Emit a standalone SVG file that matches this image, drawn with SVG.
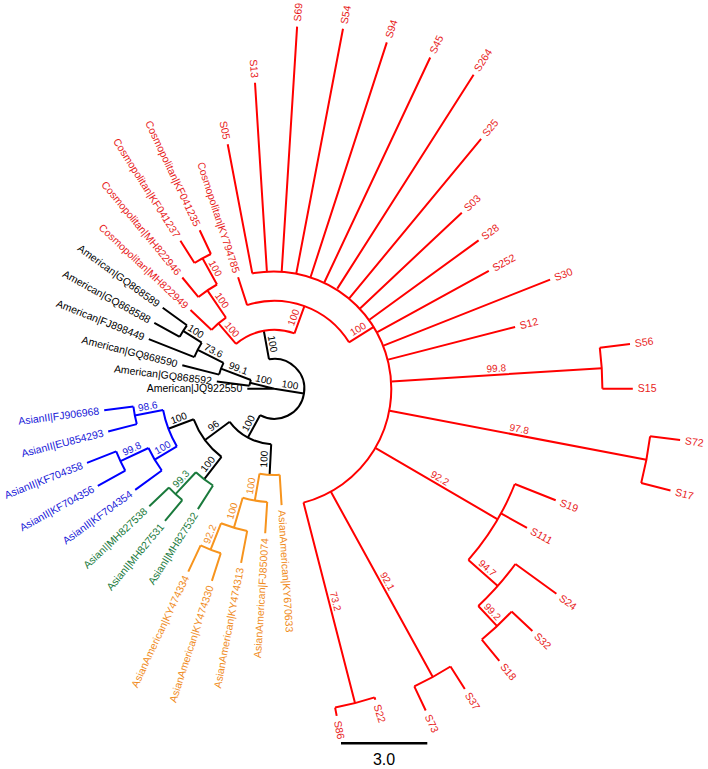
<svg xmlns="http://www.w3.org/2000/svg" width="708" height="769" viewBox="0 0 708 769">
<style>
.e{fill:none;stroke-width:2;stroke-linecap:butt}
.r{stroke:#f00}.k{stroke:#000}.b{stroke:#00f}.g{stroke:#1a7a3c}.o{stroke:#f7941d}
text{font-family:"Liberation Sans",Arial,sans-serif}
.t{font-size:10.5px}
.s{text-anchor:end}
.l{font-size:10px;text-anchor:middle}
.R{fill:#e81c1c}.K{fill:#000}.B{fill:#2020d8}.G{fill:#1a7a3c}.O{fill:#f08c1e}
</style>
<rect width="708" height="769" fill="#fff"/>
<g id="connectors">
<g class="e k">
<path d="M269.0 359.3A30 30 0 1 1 260.05 415.2"/>
<path d="M271.2 444.2A55.5 55.5 0 0 1 229.7 421.8"/>
<path d="M221.5 456.9A86.2 86.2 0 0 1 193.7 419.3"/>
<path d="M249.5 385.7A25 25 0 0 1 250.9 380.0"/>
<path d="M219.1 374.6A57 57 0 0 1 223.5 362.9"/>
<path d="M194.3 357.1A86 86 0 0 1 201.7 342.7"/>
<path d="M179.7 336.8A108 108 0 0 1 186.9 325.3"/>
<path d="M274.3 388.8L303.9 393.5M269.0 359.3L263.8 330.7M260.05 415.2L247.9 437.6M271.2 444.2L269.6 474.9M229.7 421.8L205.0 440.0M221.5 456.9L204.1 479.3M193.7 419.3L168.4 428.8M274.3 388.8L247.3 388.8M274.3 388.8L250.0 382.8M249.5 385.7L216.8 381.5M250.9 380.0L221.0 368.6M219.1 374.6L182.3 365.2M223.5 362.9L197.7 349.8M194.3 357.1L148.8 339.1M201.7 342.7L183.1 330.9M179.7 336.8L154.3 322.8M186.9 325.3L162.7 307.7"/>
</g>
<g class="e r">
<path d="M236.0 343.9A59 59 0 0 1 294.5 333.4"/>
<path d="M211.6 329.9A86 86 0 0 1 226.0 317.7"/>
<path d="M198.45 297.1A119 119 0 0 1 217.0 284.5"/>
<path d="M194.5 263.0A149 149 0 0 1 210.9 254.0"/>
<path d="M247.1 305.1A88 88 0 0 1 349.0 342.3"/>
<path d="M252.3 273.4A117.5 117.5 0 0 1 303.5 502.6"/>
<path d="M599.8 347.7A328.1 328.1 0 0 1 602.4 388.8"/>
<path d="M650.1 436.3A378.8 378.8 0 0 1 641.2 483.0"/>
<path d="M514.8 484.0A258.7 258.7 0 0 1 468.4 559.9"/>
<path d="M515.4 564.0A298 298 0 0 1 478.3 606.0"/>
<path d="M511.6 611.6A325.5 325.5 0 0 1 481.8 639.6"/>
<path d="M450.5 666.5A328.9 328.9 0 0 1 414.3 686.4"/>
<path d="M374.6 697.4A324.5 324.5 0 0 1 335.1 707.6"/>
<path d="M236.0 343.9L218.45 323.4M211.6 329.9L190.5 310.1M226.0 317.7L207.4 290.4M198.45 297.1L182.3 277.5M217.0 284.5L202.5 258.2M194.5 263.0L180.4 240.8M210.9 254.0L199.7 230.2M294.5 333.4L304.4 306.1M247.1 305.1L238.1 277.3M349.0 342.3L374.1 326.7"/>
<path d="M252.3 273.4L227.7 144.3M266.9 271.5L255.0 82.8M281.7 271.5L297.1 26.6M296.3 273.4L343.0 28.8M310.6 277.0L386.8 42.4M324.3 282.5L430.2 57.5M337.3 288.6L473.6 74.7M349.2 298.3L481.1 138.9M360.0 308.4L461.8 212.7M369.4 319.7L478.6 240.4M377.3 332.2L488.8 270.9M383.5 345.6L550.1 279.6M388.1 359.6L515.1 327.0"/>
<path d="M391.6 381.4L601.7 368.2M599.8 347.7L630.0 343.9M602.4 388.8L632.8 388.8M389.7 410.8L646.4 459.8M650.1 436.3L680.1 440.0M641.2 483.0L670.5 490.5M375.7 448.1L497.7 519.3M514.8 484.0L555.7 500.2M501.0 513.4L527.0 527.8M468.4 559.9L497.8 585.9M515.4 564.0L556.4 593.8M478.3 606.0L497.1 626.1M511.6 611.6L532.4 631.1M481.8 639.6L499.3 660.8M330.9 491.8L432.8 677.0M450.5 666.5L464.8 689.0M414.3 686.4L425.7 710.5M303.5 502.6L355.0 703.1M374.6 697.4L375.3 699.8M335.1 707.6L336.7 715.9"/>
</g>
<g class="e g">
<path d="M213.0 485.5A114.5 114.5 0 0 1 195.9 472.3"/>
<path d="M182.3 500.1A144.4 144.4 0 0 1 169.0 487.6"/>
<path d="M213.0 485.5L197.9 509.1M195.9 472.3L175.5 494.1M182.3 500.1L165.0 520.9M169.0 487.6L149.3 506.2"/>
</g>
<g class="e b">
<path d="M176.9 446.4A113.2 113.2 0 0 1 163.1 410.0"/>
<path d="M136.8 424.1A142 142 0 0 1 133.4 406.6"/>
<path d="M161.8 470.5A139 139 0 0 1 148.5 448.0"/>
<path d="M125.3 470.7A170 170 0 0 1 116.2 451.4"/>
<path d="M163.1 410.0L134.8 415.4M136.8 424.1L108.2 431.5M133.4 406.6L104.2 410.3M176.9 446.4L154.7 459.6M161.8 470.5L135.2 489.9M148.5 448.0L120.5 461.2M125.3 470.7L97.8 485.8M116.2 451.4L87.0 462.9"/>
</g>
<g class="e o">
<path d="M279.7 474.8A86.2 86.2 0 0 1 259.5 473.7"/>
<path d="M267.2 502.0A113.4 113.4 0 0 1 242.7 497.7"/>
<path d="M247.2 530.9A144.7 144.7 0 0 1 221.0 523.3"/>
<path d="M220.8 553.3A173 173 0 0 1 200.6 545.3"/>
<path d="M279.7 474.8L281.6 505.1M259.5 473.7L254.8 500.5M267.2 502.0L265.2 533.2M242.7 497.7L233.9 527.8M247.2 530.9L241.1 562.9M221.0 523.3L210.6 549.7M220.8 553.3L211.9 580.9M200.6 545.3L188.3 571.6"/>
</g>
</g>
<g id="branch-labels" class="l">
<text class="K" transform="translate(266.4,345.0) rotate(79.78)" y="-3">100</text>
<text class="K" transform="translate(289.1,391.2) rotate(9.07)" y="-3">100</text>
<text class="K" transform="translate(254.0,426.4) rotate(-61.65)" y="-3">100</text>
<text class="K" transform="translate(270.4,459.5) rotate(-86.85)" y="-3">100</text>
<text class="K" transform="translate(217.3,430.9) rotate(-36.45)" y="-3">96</text>
<text class="K" transform="translate(212.8,468.1) rotate(-52.2)" y="-3">100</text>
<text class="K" transform="translate(181.0,424.0) rotate(-20.7)" y="-3">100</text>
<text class="K" transform="translate(262.2,385.8) rotate(13.95)" y="-3">100</text>
<text class="K" transform="translate(235.95,374.3) rotate(20.7)" y="-3">99.1</text>
<text class="K" transform="translate(210.6,356.3) rotate(27)" y="-3">73.6</text>
<text class="K" transform="translate(192.4,336.8) rotate(32.4)" y="-3">100</text>
<text class="R" transform="translate(227.2,333.7) rotate(49.5)" y="-3">100</text>
<text class="R" transform="translate(216.7,304.0) rotate(55.8)" y="-3">100</text>
<text class="R" transform="translate(209.7,271.4) rotate(61.2)" y="-3">100</text>
<text class="R" transform="translate(299.5,319.75) rotate(-69.95)" y="-3">100</text>
<text class="R" transform="translate(361.5,334.5) rotate(-31.9)" y="-3">100</text>
<text class="R" transform="translate(496.7,374.8) rotate(-3.6)" y="-3">99.8</text>
<text class="R" transform="translate(518.1,435.3) rotate(10.8)" y="-3">97.8</text>
<text class="R" transform="translate(436.7,483.7) rotate(30.3)" y="-3">92.2</text>
<text class="R" transform="translate(483.1,572.9) rotate(41.4)" y="-3">94.7</text>
<text class="R" transform="translate(487.7,616.1) rotate(46.8)" y="-3">99.2</text>
<text class="R" transform="translate(381.8,584.4) rotate(61.2)" y="-3">92.1</text>
<text class="R" transform="translate(329.3,602.9) rotate(75.6)" y="-3">73.2</text>
<text class="G" transform="translate(185.7,483.2) rotate(-46.8)" y="-3">99.3</text>
<text class="B" transform="translate(148.9,412.7) rotate(-10.8)" y="-3">98.6</text>
<text class="B" transform="translate(165.8,453.0) rotate(-30.6)" y="-3">100</text>
<text class="B" transform="translate(134.5,454.6) rotate(-25.2)" y="-3">99.8</text>
<text class="O" transform="translate(257.1,487.1) rotate(-80.1)" y="-3">100</text>
<text class="O" transform="translate(238.3,512.7) rotate(-73.8)" y="-3">100</text>
<text class="O" transform="translate(215.8,536.5) rotate(-68.4)" y="-3">92.2</text>
</g>
<g id="S05"><text class="t R s" transform="translate(226.7,139.4) rotate(79.2)" dy=".35em">S05</text></g>
<g id="S13"><text class="t R s" transform="translate(254.7,77.8) rotate(86.4)" dy=".35em">S13</text></g>
<g id="S69"><text class="t R" transform="translate(297.4,21.6) rotate(-86.4)" dy=".35em">S69</text></g>
<g id="S54"><text class="t R" transform="translate(343.9,23.9) rotate(-79.2)" dy=".35em">S54</text></g>
<g id="S94"><text class="t R" transform="translate(388.4,37.7) rotate(-72)" dy=".35em">S94</text></g>
<g id="S45"><text class="t R" transform="translate(432.4,52.9) rotate(-64.8)" dy=".35em">S45</text></g>
<g id="S264"><text class="t R" transform="translate(476.3,70.5) rotate(-57.6)" dy=".35em">S264</text></g>
<g id="S25"><text class="t R" transform="translate(484.3,135.0) rotate(-50.4)" dy=".35em">S25</text></g>
<g id="S03"><text class="t R" transform="translate(465.4,209.3) rotate(-43.2)" dy=".35em">S03</text></g>
<g id="S28"><text class="t R" transform="translate(482.6,237.4) rotate(-36)" dy=".35em">S28</text></g>
<g id="S252"><text class="t R" transform="translate(493.2,268.4) rotate(-28.8)" dy=".35em">S252</text></g>
<g id="S30"><text class="t R" transform="translate(554.7,277.8) rotate(-21.6)" dy=".35em">S30</text></g>
<g id="S12"><text class="t R" transform="translate(519.9,325.7) rotate(-14.4)" dy=".35em">S12</text></g>
<g id="S56"><text class="t R" transform="translate(634.9,343.3) rotate(-7.2)" dy=".35em">S56</text></g>
<g id="S15"><text class="t R" transform="translate(637.8,388.8)" dy=".35em">S15</text></g>
<g id="S72"><text class="t R" transform="translate(685.0,440.7) rotate(7.2)" dy=".35em">S72</text></g>
<g id="S17"><text class="t R" transform="translate(675.3,491.8) rotate(14.4)" dy=".35em">S17</text></g>
<g id="S19"><text class="t R" transform="translate(560.3,502.0) rotate(21.6)" dy=".35em">S19</text></g>
<g id="S111"><text class="t R" transform="translate(531.4,530.2) rotate(28.8)" dy=".35em">S111</text></g>
<g id="S24"><text class="t R" transform="translate(560.4,596.7) rotate(36)" dy=".35em">S24</text></g>
<g id="S32"><text class="t R" transform="translate(536.0,634.5) rotate(43.2)" dy=".35em">S32</text></g>
<g id="S18"><text class="t R" transform="translate(502.5,664.6) rotate(50.4)" dy=".35em">S18</text></g>
<g id="S37"><text class="t R" transform="translate(467.5,693.2) rotate(57.6)" dy=".35em">S37</text></g>
<g id="S73"><text class="t R" transform="translate(427.8,715.0) rotate(64.8)" dy=".35em">S73</text></g>
<g id="S22"><text class="t R" transform="translate(376.9,704.6) rotate(72)" dy=".35em">S22</text></g>
<g id="S86"><text class="t R" transform="translate(337.6,720.8) rotate(79.2)" dy=".35em">S86</text></g>
<g id="KY670633"><text class="t O" transform="translate(281.9,510.1) rotate(86.4)" dy=".35em">AsianAmerican|KY670633</text></g>
<g id="FJ850074"><text class="t O s" transform="translate(264.9,538.2) rotate(-86.4)" dy=".35em">AsianAmerican|FJ850074</text></g>
<g id="KY474313"><text class="t O s" transform="translate(240.2,567.8) rotate(-79.2)" dy=".35em">AsianAmerican|KY474313</text></g>
<g id="KY474330"><text class="t O s" transform="translate(210.3,585.7) rotate(-72)" dy=".35em">AsianAmerican|KY474330</text></g>
<g id="KY474334"><text class="t O s" transform="translate(186.2,576.1) rotate(-64.8)" dy=".35em">AsianAmerican|KY474334</text></g>
<g id="MH827532"><text class="t G s" transform="translate(195.3,513.3) rotate(-57.6)" dy=".35em">AsianI|MH827532</text></g>
<g id="MH827531"><text class="t G s" transform="translate(161.8,524.8) rotate(-50.4)" dy=".35em">AsianI|MH827531</text></g>
<g id="MH827538"><text class="t G s" transform="translate(145.6,509.6) rotate(-43.2)" dy=".35em">AsianI|MH827538</text></g>
<g id="KF704354"><text class="t B s" transform="translate(131.1,492.8) rotate(-36)" dy=".35em">AsianII|KF704354</text></g>
<g id="KF704356"><text class="t B s" transform="translate(93.4,488.2) rotate(-28.8)" dy=".35em">AsianII|KF704356</text></g>
<g id="KF704358"><text class="t B s" transform="translate(82.4,464.8) rotate(-21.6)" dy=".35em">AsianII|KF704358</text></g>
<g id="EU854293"><text class="t B s" transform="translate(103.3,432.7) rotate(-14.4)" dy=".35em">AsianII|EU854293</text></g>
<g id="FJ906968"><text class="t B s" transform="translate(99.2,410.9) rotate(-7.2)" dy=".35em">AsianII|FJ906968</text></g>
<g id="JQ922550"><text class="t K s" transform="translate(242.3,388.8)" dy=".35em">American|JQ922550</text></g>
<g id="GQ868592"><text class="t K s" transform="translate(211.8,380.9) rotate(7.2)" dy=".35em">American|GQ868592</text></g>
<g id="GQ868590"><text class="t K s" transform="translate(177.4,363.9) rotate(14.4)" dy=".35em">American|GQ868590</text></g>
<g id="FJ898449"><text class="t K s" transform="translate(144.1,337.3) rotate(21.6)" dy=".35em">American|FJ898449</text></g>
<g id="GQ868588"><text class="t K s" transform="translate(149.9,320.4) rotate(28.8)" dy=".35em">American|GQ868588</text></g>
<g id="GQ868589"><text class="t K s" transform="translate(158.6,304.7) rotate(36)" dy=".35em">American|GQ868589</text></g>
<g id="MH822949"><text class="t R s" transform="translate(186.8,306.7) rotate(43.2)" dy=".35em">Cosmopolitan|MH822949</text></g>
<g id="MH822946"><text class="t R s" transform="translate(179.1,273.7) rotate(50.4)" dy=".35em">Cosmopolitan|MH822946</text></g>
<g id="KF041237"><text class="t R s" transform="translate(177.7,236.6) rotate(57.6)" dy=".35em">Cosmopolitan|KF041237</text></g>
<g id="KF041235"><text class="t R s" transform="translate(197.5,225.7) rotate(64.8)" dy=".35em">Cosmopolitan|KF041235</text></g>
<g id="KY794785"><text class="t R s" transform="translate(236.5,272.6) rotate(72)" dy=".35em">Cosmopolitan|KY794785</text></g>
<g id="scale-bar">
<line x1="341" y1="743.3" x2="427.3" y2="743.3" stroke="#000" stroke-width="2.5"/>
<text x="384" y="765" font-size="16" text-anchor="middle" fill="#000">3.0</text>
</g>
</svg>
